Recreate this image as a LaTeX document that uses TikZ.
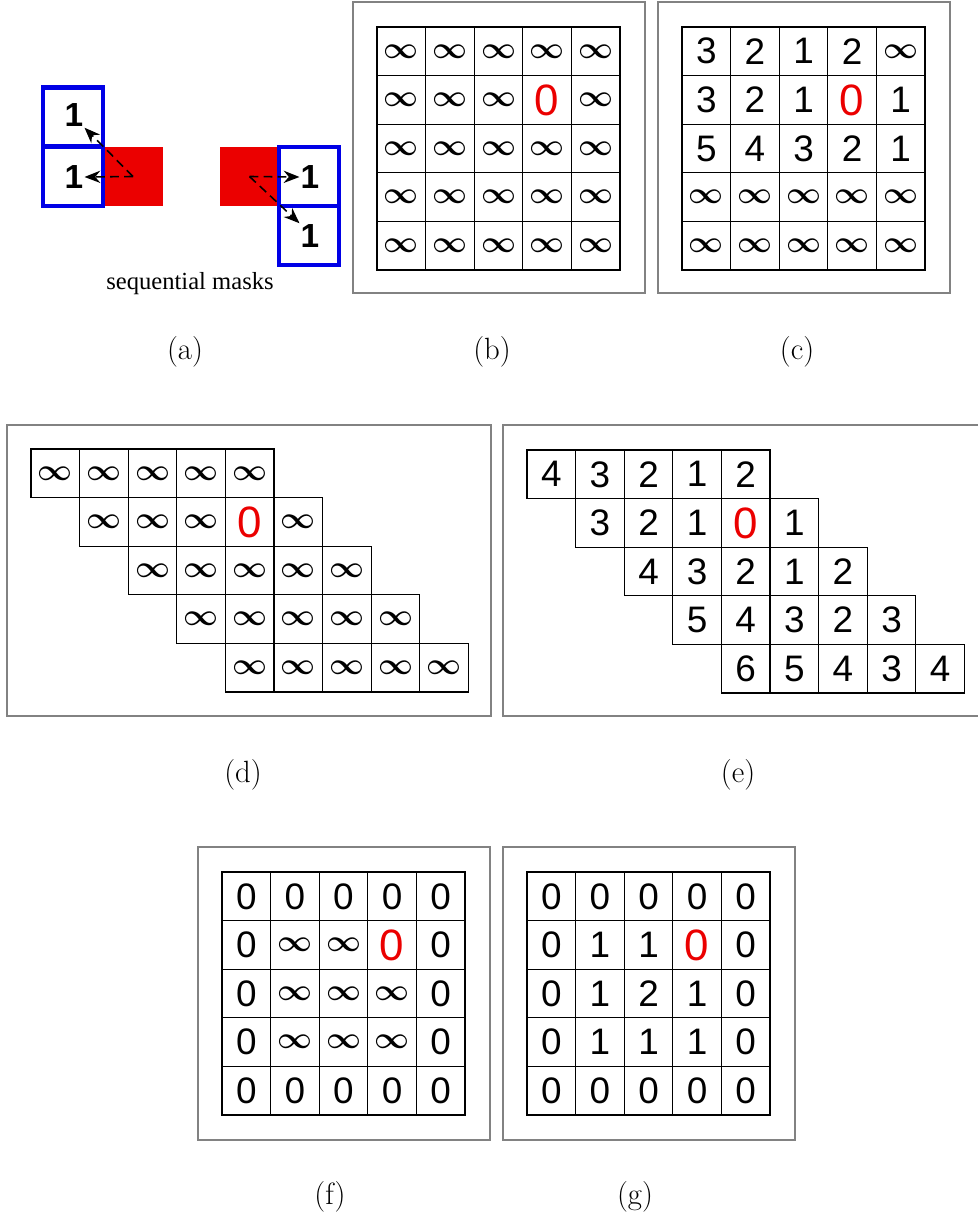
\documentclass[tikz,border=0pt]{standalone}
\usepackage{fontspec}
\usepackage{xcolor}
\usetikzlibrary{arrows.meta}

\newfontfamily\cellfont{Liberation Sans}
\newfontfamily\capfont{Liberation Serif}

\definecolor{maskblue}{RGB}{0,0,230}
\definecolor{maskred}{RGB}{235,0,0}
\definecolor{framegray}{RGB}{130,130,130}

% i = infinity, z = the red seed pixel
\def\infmark{i}
\def\zeromark{z}
\newcommand{\cellval}[1]{%
  \edef\tmpv{#1}%
  \ifx\tmpv\infmark{\fontsize{18.5}{18}\selectfont\boldmath$\infty$}%
  \else\ifx\tmpv\zeromark{\fontsize{25}{25}\selectfont\color{maskred}0}%
  \else #1\fi\fi}

% name, left, top, shift per row, rows
\newcommand{\distgrid}[5]{%
  \foreach \row [count=\ri from 0] in {#5} {
    \foreach \v [count=\ci from 0] in \row {
      \node[cell] (#1-\ri-\ci) at ({#2+(\ci+#4*\ri+0.5)*\cellsz}, {#3+(\ri+0.5)*\cellsz}) {\cellval{\v}};
    }
  }}

\begin{document}
\begin{tikzpicture}[x=0.02cm, y=-0.02cm,
    cell/.style={draw, line width=0.75pt, minimum size=0.972cm, inner sep=0pt,
      font={\cellfont\fontsize{21}{21}\selectfont}},
    panelframe/.style={draw=framegray, line width=0.6pt},
    caption/.style={font={\fontsize{17.5}{20}\selectfont}},
    curpix/.style={fill=maskred, minimum width=1.2cm, minimum height=1.18cm, inner sep=0pt},
    maskbox/.style={draw=maskblue, line width=2.3pt, minimum width=1.2cm, minimum height=1.18cm, inner sep=0pt},
    maskone/.style={inner sep=0.5pt, font={\cellfont\bfseries\fontsize{19}{19}\selectfont}},
    maskarrow/.style={dashed, line width=0.9pt, dash pattern=on 5pt off 3pt, -{Stealth[length=9pt, width=7pt]}}]

    % Define parameters
    \def\cellsz{48.6} % side of one cell in px

    \useasboundingbox (0,0) rectangle (978,1216);

    % (a) sequential masks
    \node[curpix] (lcur) at (133,176.5) {};
    \node[maskbox] (lboxup) at (73,117) {};
    \node[maskbox] (lboxleft) at (73,176.5) {};
    \node[maskone] (lup) at (74,115) {1};
    \node[maskone] (lleft) at (74,177) {1};
    \draw[maskarrow] (lcur.center) -- (lleft.east);
    \draw[maskarrow] (lcur.center) -- (lup.south east);

    \node[curpix] (rcur) at (249.5,176.5) {};
    \node[maskbox] (rboxright) at (309,176.5) {};
    \node[maskbox] (rboxdown) at (309,235.5) {};
    \node[maskone] (rright) at (310,177) {1};
    \node[maskone] (rdown) at (310,236) {1};
    \draw[maskarrow] (rcur.center) -- (rright.west);
    \draw[maskarrow] (rcur.center) -- (rdown.north west);

    \node[font={\capfont\fontsize{14}{16}\selectfont}] (seqtext) at (190,284) {sequential masks};

    % Panel frames
    \draw[panelframe] (353,2) rectangle (645,293);
    \draw[panelframe] (658,2) rectangle (950,293);
    \draw[panelframe] (7,425) rectangle (491,716);
    \draw[panelframe] (978,425) -- (503,425) -- (503,716) -- (978,716);
    \draw[panelframe] (198,847) rectangle (490,1140);
    \draw[panelframe] (503,847) rectangle (795,1140);

    % Distance grids
    \distgrid{gb}{377}{27}{0}{{i,i,i,i,i},{i,i,i,z,i},{i,i,i,i,i},{i,i,i,i,i},{i,i,i,i,i}}
    \distgrid{gc}{682}{27}{0}{{3,2,1,2,i},{3,2,1,z,1},{5,4,3,2,1},{i,i,i,i,i},{i,i,i,i,i}}
    \distgrid{gd}{31}{449}{1}{{i,i,i,i,i},{i,i,i,z,i},{i,i,i,i,i},{i,i,i,i,i},{i,i,i,i,i}}
    \distgrid{ge}{527}{450}{1}{{4,3,2,1,2},{3,2,1,z,1},{4,3,2,1,2},{5,4,3,2,3},{6,5,4,3,4}}
    \distgrid{gf}{222}{872}{0}{{0,0,0,0,0},{0,i,i,z,0},{0,i,i,i,0},{0,i,i,i,0},{0,0,0,0,0}}
    \distgrid{gg}{527}{872}{0}{{0,0,0,0,0},{0,1,1,z,0},{0,1,2,1,0},{0,1,1,1,0},{0,0,0,0,0}}

    % Captions
    \node[caption] (capa) at (185,352) {(a)};
    \node[caption] (capb) at (492,352) {(b)};
    \node[caption] (capc) at (797,352) {(c)};
    \node[caption] (capd) at (243,775) {(d)};
    \node[caption] (cape) at (738,775) {(e)};
    \node[caption] (capf) at (330,1197) {(f)};
    \node[caption] (capg) at (635,1197) {(g)};
\end{tikzpicture}
\end{document}
